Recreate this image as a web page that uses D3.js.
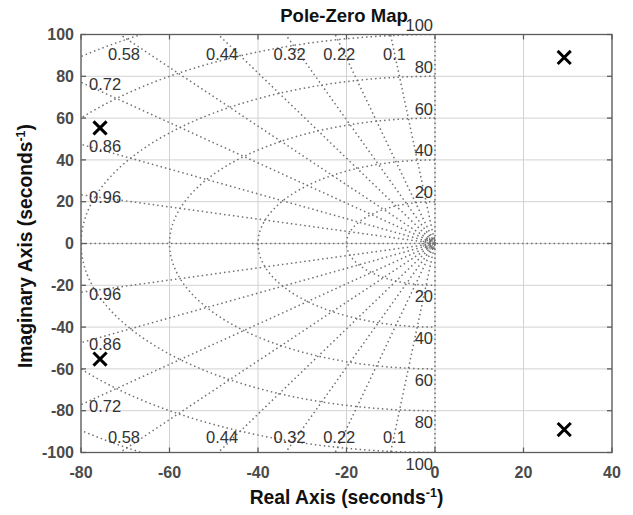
<!DOCTYPE html>
<html>
<head>
<meta charset="utf-8">
<script src="https://cdn.jsdelivr.net/npm/d3@7"></script>
<style>
  html, body { margin: 0; padding: 0; background: #fff; }
  svg { display: block; font-family: Arial, "Liberation Sans", Helvetica, sans-serif; }
</style>
</head>
<body>
<svg id="chart" width="633" height="515"></svg>
<script>
// Axis ranges and tick values
const xDomain = [-80, 40];
const yDomain = [-100, 100];
const xTicks = [-80, -60, -40, -20, 0, 20, 40];
const yTicks = [-100, -80, -60, -40, -20, 0, 20, 40, 60, 80, 100];

// Poles of the system (real, imaginary)
const poleRe = [-75.7, -75.7, 29.2, 29.2];
const poleIm = [55.3, -55.3, 89, -89];

// s-plane grid: constant damping ratio rays and natural frequency arcs
const dampingRatios = [0.1, 0.22, 0.32, 0.44, 0.58, 0.72, 0.86, 0.96];
const naturalFreqs = [1, 1.6, 2.2, 2.8, 20, 40, 60, 80, 100, 120];
const freqLabels = [20, 40, 60, 80, 100];

const svg = d3.select("#chart");
const margin = { left: 81, right: 21, top: 34.5, bottom: 62.5 };
const W = 633, H = 515;
const x = d3.scaleLinear().domain(xDomain).range([margin.left, W - margin.right]);
const y = d3.scaleLinear().domain(yDomain).range([H - margin.bottom, margin.top]);

svg.append("defs").append("clipPath").attr("id", "plotClip")
  .append("rect")
  .attr("x", x(xDomain[0])).attr("y", y(yDomain[1]))
  .attr("width", x(xDomain[1]) - x(xDomain[0]))
  .attr("height", y(yDomain[0]) - y(yDomain[1]));

// Light solid grid
const grid = svg.append("g");
grid.selectAll("line.gx").data(xTicks).join("line")
  .attr("x1", d => x(d)).attr("x2", d => x(d))
  .attr("y1", y(yDomain[0])).attr("y2", y(yDomain[1]))
  .attr("stroke", "#d2d2d2").attr("stroke-width", 1);
grid.selectAll("line.gy").data(yTicks).join("line")
  .attr("x1", x(xDomain[0])).attr("x2", x(xDomain[1]))
  .attr("y1", d => y(d)).attr("y2", d => y(d))
  .attr("stroke", "#d2d2d2").attr("stroke-width", 1);

// Dotted s-plane grid
const sgrid = svg.append("g").attr("clip-path", "url(#plotClip)")
  .attr("fill", "none").attr("stroke", "#707070")
  .attr("stroke-width", 1.5).attr("stroke-dasharray", "1.5,3");

// natural frequency arcs in the left half plane
const arc = d3.line().x(d => x(d[0])).y(d => y(d[1]));
naturalFreqs.forEach(wn => {
  const pts = d3.range(0, 181).map(i => {
    const th = Math.PI / 2 + i * Math.PI / 180;
    return [wn * Math.cos(th), wn * Math.sin(th)];
  });
  sgrid.append("path").attr("d", arc(pts))
    .attr("stroke-dasharray", wn < 5 ? "1.2,1.2" : null);
});

// constant damping rays
const rayLen = 400;
dampingRatios.forEach(z => {
  const s = Math.sqrt(1 - z * z);
  [1, -1].forEach(sign => {
    sgrid.append("line")
      .attr("x1", x(0)).attr("y1", y(0))
      .attr("x2", x(-rayLen * z)).attr("y2", y(sign * rayLen * s));
  });
});
// real and imaginary axes
sgrid.append("line").attr("x1", x(xDomain[0])).attr("x2", x(xDomain[1]))
  .attr("y1", y(0)).attr("y2", y(0));
sgrid.append("line").attr("x1", x(0)).attr("x2", x(0))
  .attr("y1", y(yDomain[0])).attr("y2", y(yDomain[1]));

// Damping ratio labels where each ray meets the plot border
const labG = svg.append("g").attr("font-size", 16.5).attr("fill", "#333");
dampingRatios.forEach(z => {
  const s = Math.sqrt(1 - z * z);
  [1, -1].forEach(sign => {
    const tTop = yDomain[1] / s;
    const xi = -tTop * z;
    if (xi >= xDomain[0]) {
      const yEdge = y(sign * yDomain[1]);
      labG.append("text")
        .attr("x", x(xi) + 4)
        .attr("y", sign > 0 ? yEdge + 25 : yEdge - 9.5)
        .attr("text-anchor", "middle")
        .text(String(z));
    } else {
      const yi = sign * (-xDomain[0]) * s / z;
      labG.append("text")
        .attr("x", x(xDomain[0]) + 8)
        .attr("y", y(yi) + 2)
        .attr("dy", "0.35em")
        .attr("text-anchor", "start")
        .text(String(z));
    }
  });
});

// Natural frequency labels along the imaginary axis
freqLabels.forEach(wn => {
  labG.append("text").attr("x", x(0) - 2).attr("y", y(wn) - 3.5)
    .attr("text-anchor", "end").text(String(wn));
  labG.append("text").attr("x", x(0) - 2).attr("y", y(-wn) + 17)
    .attr("text-anchor", "end").text(String(wn));
});

// Axes box with inward ticks on all sides
const boxColor = "#5c5c5c";
const tickLen = 5;
const axes = svg.append("g").attr("stroke", boxColor).attr("stroke-width", 1.3);
axes.append("rect")
  .attr("x", x(xDomain[0])).attr("y", y(yDomain[1]))
  .attr("width", x(xDomain[1]) - x(xDomain[0]))
  .attr("height", y(yDomain[0]) - y(yDomain[1]))
  .attr("fill", "none");
xTicks.forEach(t => {
  axes.append("line").attr("x1", x(t)).attr("x2", x(t))
    .attr("y1", y(yDomain[0])).attr("y2", y(yDomain[0]) - tickLen);
  axes.append("line").attr("x1", x(t)).attr("x2", x(t))
    .attr("y1", y(yDomain[1])).attr("y2", y(yDomain[1]) + tickLen);
});
yTicks.forEach(t => {
  axes.append("line").attr("y1", y(t)).attr("y2", y(t))
    .attr("x1", x(xDomain[0])).attr("x2", x(xDomain[0]) + tickLen);
  axes.append("line").attr("y1", y(t)).attr("y2", y(t))
    .attr("x1", x(xDomain[1])).attr("x2", x(xDomain[1]) - tickLen);
});

// Tick labels
const tickG = svg.append("g").attr("font-size", 16).attr("font-weight", "bold").attr("fill", "#4a4a4a");
xTicks.forEach(t => {
  tickG.append("text").attr("x", x(t)).attr("y", y(yDomain[0]) + 25)
    .attr("text-anchor", "middle").text(String(t));
});
yTicks.forEach(t => {
  tickG.append("text").attr("x", x(xDomain[0]) - 7).attr("y", y(t))
    .attr("dy", "0.35em").attr("text-anchor", "end").text(String(t));
});

// Pole markers
const poles = poleRe.map((re, i) => ({ re, im: poleIm[i] }));
const m = 5.5;
svg.append("g").attr("stroke", "#000").attr("stroke-width", 3).attr("stroke-linecap", "square")
  .selectAll("path").data(poles).join("path")
  .attr("d", d => {
    const cx = x(d.re), cy = y(d.im);
    return `M${cx - m},${cy - m}L${cx + m},${cy + m}M${cx - m},${cy + m}L${cx + m},${cy - m}`;
  });

// Title and axis labels
svg.append("text").attr("x", 344).attr("y", 22).attr("text-anchor", "middle")
  .attr("font-size", 18.5).attr("font-weight", "bold").attr("fill", "#111")
  .text("Pole-Zero Map");

const xl = svg.append("text").attr("x", (x(xDomain[0]) + x(xDomain[1])) / 2).attr("y", 504)
  .attr("text-anchor", "middle").attr("font-size", 19.3).attr("font-weight", "bold").attr("fill", "#111");
xl.append("tspan").text("Real Axis (seconds");
xl.append("tspan").attr("font-size", 12.5).attr("dy", -7.5).text("-1");
xl.append("tspan").attr("dy", 7.5).text(")");

const yl = svg.append("text")
  .attr("transform", `translate(32,246) rotate(-90)`)
  .attr("text-anchor", "middle").attr("font-size", 19.3).attr("font-weight", "bold").attr("fill", "#111");
yl.append("tspan").text("Imaginary Axis (seconds");
yl.append("tspan").attr("font-size", 12.5).attr("dy", -7.5).text("-1");
yl.append("tspan").attr("dy", 7.5).text(")");
</script>
</body>
</html>
